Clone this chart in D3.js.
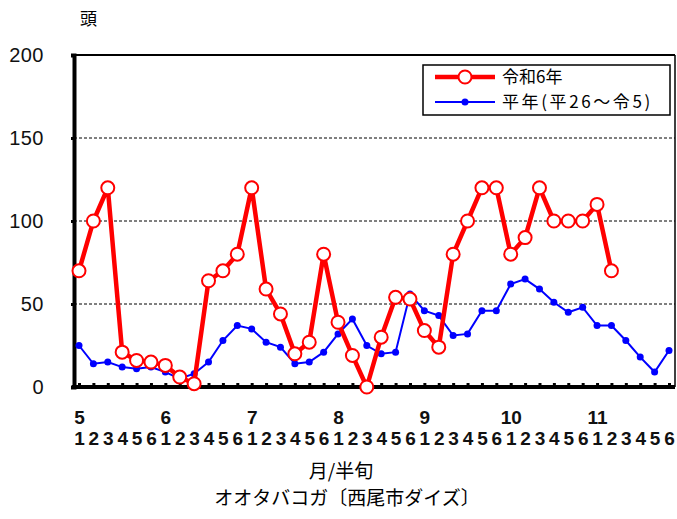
<!DOCTYPE html>
<html><head><meta charset="utf-8">
<script src="https://cdn.jsdelivr.net/npm/d3@7"></script>
<style>
body{margin:0;background:#fff;}
svg{display:block;font-family:"Liberation Sans",Arial,sans-serif;}
</style></head>
<body><svg id="c" width="677" height="519"></svg>
<script>
const months = [5,6,7,8,9,10,11];
const halves = [1,2,3,4,5,6];
const yTicks = [0,50,100,150,200];
const seriesNames = ["令和6年","平年(平26～令5)"];
const r6 = [70,100,120,21,16,15, 13,6,2,64,70,80, 120,59,44,20,27,80, 39,19,0,30,54,53, 34,24,80,100,120,120, 80,90,120,100,100,100, 110,70];
const normal = [25,14,15,12,11,12, 9,5,8,15,28,37, 35,27,24,14,15,21, 32,41,25,20,21,56, 46,43,31,32,46,46, 62,65,59,51,45,48, 37,37,28,18,9,22];
const yUnit = "頭";
const xTitle = "月/半旬";
const chartTitle = "オオタバコガ〔西尾市ダイズ〕";

const svg = d3.select("#c");
const idx = d3.range(months.length*halves.length);
const x = d3.scaleLinear().domain([0, idx.length-1]).range([79, 669]);
const y = d3.scaleLinear().domain([0,200]).range([387,55]);
const left = 74, right = 675;

// gridlines
svg.append("g").selectAll("line").data(yTicks.filter(v=>v>0&&v<200)).join("line")
  .attr("x1",left).attr("x2",right).attr("y1",d=>y(d)).attr("y2",d=>y(d))
  .attr("stroke","#000").attr("stroke-width",1).attr("stroke-dasharray","3,2");

// frame top/right
svg.append("line").attr("x1",left).attr("x2",right).attr("y1",y(200)).attr("y2",y(200)).attr("stroke","#000").attr("stroke-width",2);
svg.append("line").attr("x1",right).attr("x2",right).attr("y1",y(200)).attr("y2",y(0)).attr("stroke","#000").attr("stroke-width",1.5);

// y axis
const ya = svg.append("g").attr("transform",`translate(${left},0)`)
  .call(d3.axisLeft(y).tickValues(yTicks).tickSize(3).tickPadding(27));
ya.select(".domain").attr("stroke-width",4).attr("stroke","#000");
ya.selectAll(".tick line").attr("stroke-width",3);
ya.selectAll("text").attr("font-size",20).attr("fill","#111").attr("letter-spacing","0.5px");

// x axis (half-decade digits)
const xa = svg.append("g").attr("transform",`translate(0,${y(0)})`)
  .call(d3.axisBottom(x).tickValues(idx).tickSize(-4).tickPadding(0).tickFormat(i=>halves[i%6]));
xa.select(".domain").attr("stroke-width",4).attr("d",`M${left-2},0H${right}`);
xa.selectAll(".tick line").attr("stroke-width",3);
xa.selectAll("text").attr("font-size",19).attr("font-weight","bold").attr("fill","#111").attr("dy",null).attr("y",58);

// month labels
svg.append("g").attr("transform",`translate(0,${y(0)})`)
  .call(d3.axisBottom(x).tickValues(idx.filter(i=>i%6===0)).tickSize(0).tickFormat(i=>months[i/6]))
  .call(g=>g.select(".domain").remove())
  .selectAll("text").attr("font-size",19).attr("font-weight","bold").attr("fill","#111").attr("dy",null).attr("y",37);

// blue normal line
const line = d3.line().x((d,i)=>x(i)).y(d=>y(d));
svg.append("path").datum(normal).attr("d",line).attr("fill","none").attr("stroke","#0000ff").attr("stroke-width",2);
svg.append("g").selectAll("circle").data(normal).join("circle")
  .attr("cx",(d,i)=>x(i)).attr("cy",d=>y(d)).attr("r",3.5).attr("fill","#0000ff");

// red line
svg.append("path").datum(r6).attr("d",line).attr("fill","none").attr("stroke","#ff0000").attr("stroke-width",4.5).attr("stroke-linejoin","round");
svg.append("g").selectAll("circle").data(r6).join("circle")
  .attr("cx",(d,i)=>x(i)).attr("cy",d=>y(d)).attr("r",6.5).attr("fill","#fff").attr("stroke","#ff0000").attr("stroke-width",2);

// legend
const lg = svg.append("g");
lg.append("rect").attr("x",423).attr("y",65).attr("width",247).attr("height",50).attr("fill","#fff").attr("stroke","#000").attr("stroke-width",1.5);
lg.append("line").attr("x1",435).attr("x2",495).attr("y1",77).attr("y2",77).attr("stroke","#ff0000").attr("stroke-width",4.5);
lg.append("circle").attr("cx",465).attr("cy",77).attr("r",6.5).attr("fill","#fff").attr("stroke","#ff0000").attr("stroke-width",2);
lg.append("line").attr("x1",435).attr("x2",495).attr("y1",102).attr("y2",102).attr("stroke","#0000ff").attr("stroke-width",2);
lg.append("circle").attr("cx",465).attr("cy",102).attr("r",3.5).attr("fill","#0000ff");
lg.append("text").attr("x",502).attr("y",83).attr("font-size",17).attr("font-family","Noto Sans CJK JP").text(seriesNames[0]);
lg.append("text").attr("x",502).attr("y",108).attr("font-size",17).attr("letter-spacing","2.6px").attr("font-family","Noto Sans CJK JP").text(seriesNames[1]);

// unit & titles
svg.append("text").attr("x",80).attr("y",25).attr("font-size",17).attr("font-family","Noto Sans CJK JP").text(yUnit);
svg.append("text").attr("x",341).attr("y",478).attr("text-anchor","middle").attr("font-size",19).attr("font-family","Noto Sans CJK JP").text(xTitle);
svg.append("text").attr("x",347).attr("y",505).attr("text-anchor","middle").attr("font-size",19).attr("font-family","Noto Sans CJK JP").text(chartTitle);
</script></body></html>
